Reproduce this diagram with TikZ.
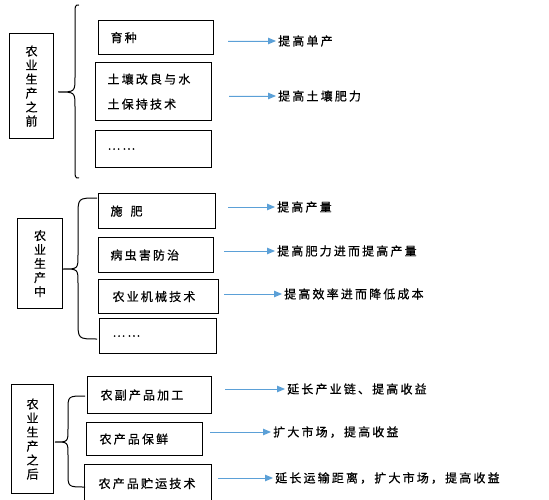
\documentclass[tikz,border=0pt]{standalone}
\usepackage{fontspec}
\setmainfont{Noto Sans CJK SC}[LetterSpace=18,FakeBold=0.6]
\usetikzlibrary{arrows.meta}
\definecolor{arrblue}{RGB}{91,160,215}
\begin{document}
\begin{tikzpicture}[x=1pt,y=-1pt,
  box/.style={draw, line width=1.1pt, inner xsep=12pt, inner ysep=0pt, align=left, anchor=north west, font=\fontsize{12}{25}\selectfont},
  side/.style={draw, line width=1.1pt, inner sep=0pt, align=center, anchor=north west, font=\fontsize{12}{14}\selectfont},
  res/.style={anchor=west, inner xsep=2pt, inner ysep=0pt, font=\fontsize{12}{14}\selectfont},
  arr/.style={draw=arrblue, line width=0.9pt, -{Triangle[length=8pt,width=6.5pt]}, fill=arrblue},
  brace/.style={line width=1pt}]
\useasboundingbox (0,0) rectangle (549,500);
\clip (0,0) rectangle (549,500);

% ---- section 1
\node[side, minimum width=44pt, minimum height=105pt] (L1) at (9,33) {农\\业\\生\\产\\之\\前};
\node[box, text width=91pt, minimum height=34pt] (b11) at (98,20) {育种};
\node[box, text width=92pt, minimum height=58pt] (b12) at (95,62) {土壤改良与水\\土保持技术};
\node[box, text width=92pt, minimum height=37pt] (b13) at (95,130) {……};
\draw[brace] (79,5) .. controls (75,5) .. (75,17) -- (75,77) .. controls (75,92) .. (58,92)
  .. controls (75,92) .. (75,107) -- (75,166) .. controls (75,178) .. (79,178);

\node[res] (r11) at (276,41) {提高单产};
\node[res] (r12) at (276,96) {提高土壤肥力};
\coordinate (s11) at (228,41);
\coordinate (s12) at (229,96);
\draw[arr] (s11) -- (r11.west);
\draw[arr] (s12) -- (r12.west);

% ---- section 2
\node[side, minimum width=45pt, minimum height=90pt] (L2) at (17,218) {农\\业\\生\\产\\中};
\node[box, text width=93pt, minimum height=35pt] (b21) at (98,193) {施\hspace{8pt}肥};
\node[box, text width=91pt, minimum height=35pt] (b22) at (98,237) {病虫害防治};
\node[box, text width=92pt, minimum height=34pt, inner xsep=14pt] (b23) at (98,279) {农业机械技术};
\node[box, text width=91pt, minimum height=35pt, inner xsep=13pt] (b24) at (99,318) {……};
\draw[brace] (97,198) .. controls (78,198) .. (78,216) -- (78,255) .. controls (78,269) .. (63,269)
  .. controls (78,269) .. (78,283) -- (78,321) .. controls (78,339) .. (97,339);

\node[res] (r21) at (275,207) {提高产量};
\node[res] (r22) at (275,251) {提高肥力进而提高产量};
\node[res] (r23) at (282,294) {提高效率进而降低成本};
\coordinate (s21) at (228,207);
\coordinate (s22) at (224,251);
\coordinate (s23) at (224,294);
\draw[arr] (s21) -- (r21.west);
\draw[arr] (s22) -- (r22.west);
\draw[arr] (s23) -- (r23.west);

% ---- section 3
\node[side, minimum width=42pt, minimum height=109pt] (L3) at (11,384) {农\\业\\生\\产\\之\\后};
\node[box, text width=98pt, minimum height=37pt, inner xsep=13pt] (b31) at (87,376) {农副产品加工};
\node[box, text width=90pt, minimum height=33pt, inner xsep=13pt] (b32) at (86,422) {农产品保鲜};
\node[box, text width=99pt, minimum height=38pt, inner xsep=14pt] (b33) at (84,464) {农产品贮运技术};
\draw[brace] (85,396) .. controls (68,396) .. (68,410) -- (68,429) .. controls (68,442) .. (55,442)
  .. controls (68,442) .. (68,455) -- (68,473) .. controls (68,487) .. (85,487);

\node[res] (r31) at (285,389) {延长产业链、提高收益};
\node[res] (r32) at (271,432) {扩大市场，提高收益};
\node[res] (r33) at (273,478) {延长运输距离，扩大市场，提高收益};
\coordinate (s31) at (225,389);
\coordinate (s32) at (210,432);
\coordinate (s33) at (218,478);
\draw[arr] (s31) -- (r31.west);
\draw[arr] (s32) -- (r32.west);
\draw[arr] (s33) -- (r33.west);
\end{tikzpicture}
\end{document}
